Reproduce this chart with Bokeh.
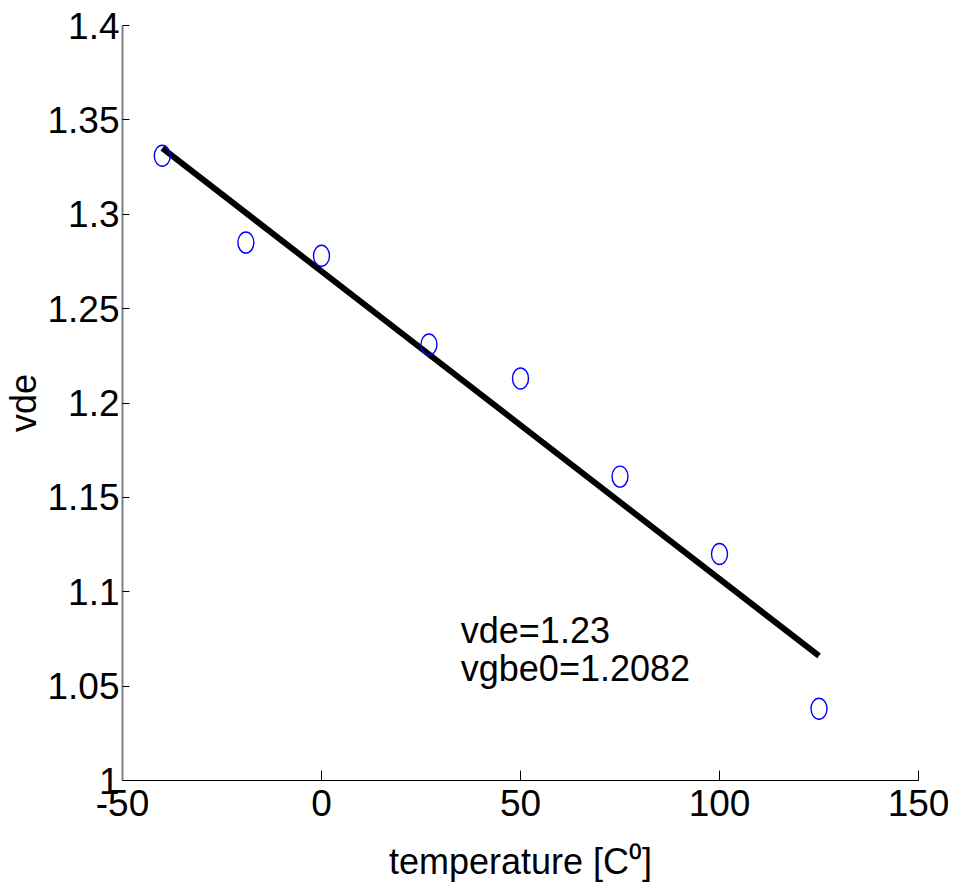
from bokeh.plotting import figure
from bokeh.models import Range1d, FixedTicker, Label, ColumnDataSource
from bokeh.embed import file_html
from bokeh.resources import INLINE

# Measured forward voltage vs. temperature
temperature = [-40, -19, 0, 27, 50, 75, 100, 125]
vde_measured = [1.331, 1.285, 1.278, 1.231, 1.213, 1.161, 1.120, 1.038]

# Straight-line model drawn across the measured span
fit_temperature = [-40, 125]
fit_vde = [1.335, 1.066]

x_ticks = [-50, 0, 50, 100, 150]
x_tick_labels = ["-50", "0", "50", "100", "150"]
y_ticks = [1.0, 1.05, 1.1, 1.15, 1.2, 1.25, 1.3, 1.35, 1.4]
y_tick_labels = ["1", "1.05", "1.1", "1.15", "1.2", "1.25", "1.3", "1.35", "1.4"]

annotation_lines = ["vde=1.23", "vgbe0=1.2082"]

FONT = "Liberation Sans"
W, H = 957, 885

p = figure(
    width=W, height=H,
    x_range=Range1d(-50, 150), y_range=Range1d(1.0, 1.4),
    output_backend="svg", toolbar_location=None,
    min_border_left=122, min_border_right=39,
    min_border_top=25, min_border_bottom=105,
    background_fill_color="white", border_fill_color="white",
)
p.outline_line_color = None
p.xgrid.visible = False
p.ygrid.visible = False

# Axes: ticks pointing inward, MATLAB style
p.xaxis.ticker = FixedTicker(ticks=x_ticks)
p.xaxis.major_label_overrides = {t: s for t, s in zip(x_ticks, x_tick_labels)}
p.yaxis.ticker = FixedTicker(ticks=y_ticks)
p.yaxis.major_label_overrides = {t: s for t, s in zip(y_ticks, y_tick_labels)}

for ax in (p.xaxis[0], p.yaxis[0]):
    ax.minor_tick_line_color = None
    ax.major_tick_out = 0
    ax.major_label_text_font = FONT
    ax.major_label_text_font_size = "37px"
    ax.major_label_text_color = "black"
    ax.major_tick_line_color = "black"
    ax.major_tick_line_width = 1
    ax.axis_label_text_font = FONT
    ax.axis_label_text_font_size = "36px"
    ax.axis_label_text_font_style = "normal"
    ax.axis_label_text_color = "black"

p.xaxis.major_tick_in = 10
p.xaxis.axis_line_color = "black"
p.xaxis.major_label_standoff = 9
p.xaxis.axis_label = "temperature [C\u2070]"
p.xaxis.axis_label_standoff = 22

p.yaxis.major_tick_in = 7
p.yaxis.axis_line_color = "#808080"
p.yaxis.axis_line_width = 2
p.yaxis.major_label_standoff = 3
p.yaxis.axis_label = "vde"
p.yaxis.axis_label_standoff = 0

src = ColumnDataSource(dict(t=temperature, v=vde_measured))
fit_src = ColumnDataSource(dict(t=fit_temperature, v=fit_vde))

p.line("t", "v", source=fit_src, line_color="black", line_width=6)
p.ellipse("t", "v", source=src, width=16, height=21,
          width_units="screen", height_units="screen",
          fill_color=None, line_color="#0000ff", line_width=1.4)

# Annotation text inside the plot
for txt, yb in zip(annotation_lines, [1.0795, 1.0593]):
    p.add_layout(Label(x=35, y=yb, text=txt, text_font=FONT,
                       text_font_size="36px", text_color="black",
                       text_baseline="alphabetic", text_align="left"))

open("out.html", "w").write(file_html(p, INLINE))
